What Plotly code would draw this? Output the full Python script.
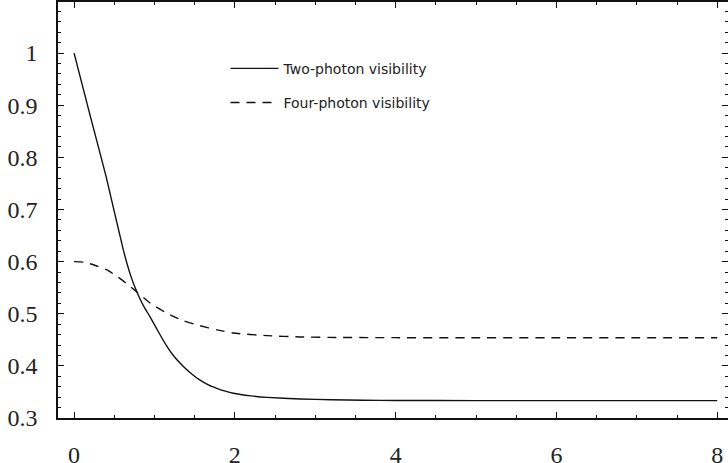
import plotly.graph_objects as go

# Two-photon visibility
x_two = [0, 0.2, 0.4, 0.613, 0.7, 0.78, 0.86, 0.945, 1.05, 1.153, 1.25, 1.36, 1.46, 1.567, 1.67, 1.775, 1.88, 1.98, 2.2, 2.4, 2.81, 3.2, 3.6, 4.0, 5.0, 6.0, 7.0, 8.0]
y_two = [1.0, 0.88, 0.762, 0.622, 0.575, 0.542, 0.516, 0.494, 0.465, 0.438, 0.417, 0.399, 0.385, 0.3725, 0.3635, 0.357, 0.3515, 0.3475, 0.3425, 0.3395, 0.3365, 0.335, 0.334, 0.3337, 0.3334, 0.3333, 0.3333, 0.3333]

# Four-photon visibility
x_four = [0, 0.12, 0.24, 0.41, 0.55, 0.66, 0.78, 0.95, 1.153, 1.35, 1.567, 1.78, 1.98, 2.4, 2.81, 3.3, 4.0, 5.0, 6.0, 7.0, 8.0]
y_four = [0.6, 0.599, 0.594, 0.584, 0.57, 0.557, 0.542, 0.52, 0.501, 0.487, 0.477, 0.469, 0.463, 0.458, 0.4555, 0.4545, 0.4541, 0.454, 0.454, 0.454, 0.454]

x_ticks = [0, 2, 4, 6, 8]
y_ticks = [0.3, 0.4, 0.5, 0.6, 0.7, 0.8, 0.9, 1]
y_tick_text = ["0.3", "0.4", "0.5", "0.6", "0.7", "0.8", "0.9", "1"]

SERIF = "Liberation Serif"

fig = go.Figure()
fig.add_trace(go.Scatter(x=x_two, y=y_two, mode="lines", name="Two-photon visibility",
                         line=dict(color="#111", width=1.4, shape="spline", smoothing=0.4),
                         legendgroup="a"))
fig.add_trace(go.Scatter(x=x_four, y=y_four, mode="lines", name="Four-photon visibility",
                         line=dict(color="#111", width=1.4, dash="9px,7px", shape="spline", smoothing=0.5),
                         legendgroup="b"))

axis_common = dict(showgrid=False, zeroline=False, showline=True, linecolor="#111", linewidth=1.5,
                   mirror="allticks", ticks="inside", ticklen=6, tickwidth=1.2, tickcolor="#111",
                   automargin=False,
                   tickfont=dict(family=SERIF, size=24, color="#222"))

fig.update_layout(
    width=728, height=463,
    margin=dict(l=58, r=0, t=2, b=45),
    paper_bgcolor="white", plot_bgcolor="white",
    font=dict(family=SERIF, size=24, color="#222"),
    showlegend=True,
    legend=dict(x=0.25, y=0.878, xanchor="left", yanchor="top", bgcolor="rgba(0,0,0,0)",
                font=dict(family="DejaVu Sans", size=14, color="#222"), tracegroupgap=13,
                itemwidth=48),
    xaxis=dict(range=[-0.2, 8.134], tickvals=x_ticks, ticktext=[str(v) for v in x_ticks],
               minor=dict(dtick=0.5, tick0=0, ticks="inside", ticklen=3, tickwidth=1, tickcolor="#111"),
               ticklabelstandoff=14, **axis_common),
    yaxis=dict(range=[0.3, 1.098], tickvals=y_ticks, ticktext=y_tick_text,
               minor=dict(dtick=0.02, tick0=0.3, ticks="inside", ticklen=3, tickwidth=1, tickcolor="#111"),
               ticklabelstandoff=14, **axis_common),
)

fig.write_html("out.html")
